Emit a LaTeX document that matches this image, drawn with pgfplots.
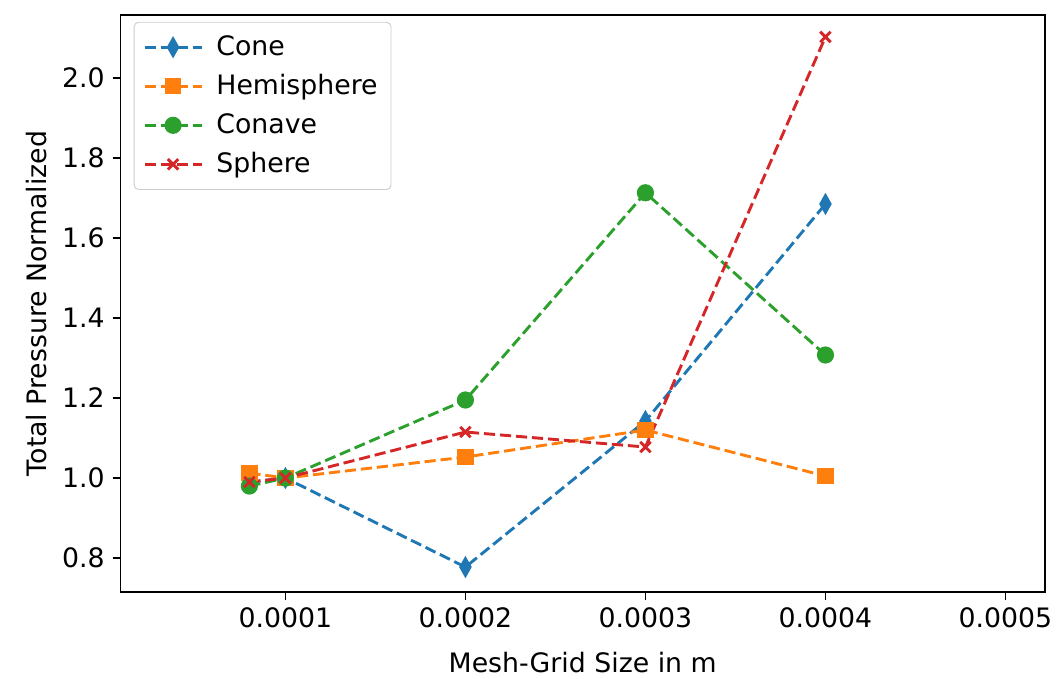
\documentclass[border=0pt]{standalone}
\usepackage{pgfplots}
\pgfplotsset{compat=1.18}
\usepackage{fontspec}
\setmainfont{DejaVu Sans}
\definecolor{tabblue}{HTML}{1F77B4}
\definecolor{taborange}{HTML}{FF7F0E}
\definecolor{tabgreen}{HTML}{2CA02C}
\definecolor{tabred}{HTML}{D62728}
\begin{document}
\begin{tikzpicture}
\begin{axis}[
  name=ax,
  scale only axis,
  width=415pt, height=259pt,
  xmin=0.0000083, xmax=0.000522,
  ymin=0.715, ymax=2.1575,
  xtick={0.0001,0.0002,0.0003,0.0004,0.0005},
  xticklabels={0.0001,0.0002,0.0003,0.0004,0.0005},
  scaled x ticks=false,
  ytick={0.8,1.0,1.2,1.4,1.6,1.8,2.0},
  yticklabel style={/pgf/number format/.cd,fixed,fixed zerofill,precision=1},
  /pgf/number format/assume math mode=true,
  tick align=outside,
  tick pos=left,
  major tick length=3.5pt,
  tick style={black, line width=0.6pt},
  axis line style={line width=0.6pt},
  ticklabel style={font=\fontsize{12}{14}\selectfont},
  label style={font=\fontsize{12}{14}\selectfont},
  xlabel={Mesh-Grid Size in m},
  xlabel style={yshift=-4pt},
  ylabel={Total Pressure Normalized},
  legend style={font=\fontsize{12}{14}\selectfont, draw=black!20, rounded corners=2pt, row sep=3pt, at={(0.0145,0.988)}, anchor=north west, inner xsep=4pt, inner ysep=4pt},
  legend cell align=left,
  legend image code/.code={\draw[mark repeat=2,mark phase=2] plot coordinates {(0cm,0cm) (0.45cm,0cm) (0.9cm,0cm)};},
  every axis plot/.append style={line width=1.3pt, dash pattern=on 5pt off 2.2pt},
]
\addplot[tabblue, mark=diamond*, mark size=3.7pt, mark options={solid, xscale=0.75}] coordinates {
(0.00008,0.99) (0.0001,1.0) (0.0002,0.7775) (0.0003,1.1425) (0.0004,1.685)};
\addlegendentry{\hspace{4pt}Cone}
\addplot[taborange, mark=square*, mark size=3.0pt, mark options={solid}] coordinates {
(0.00008,1.0125) (0.0001,1.0) (0.0002,1.0525) (0.0003,1.12) (0.0004,1.005)};
\addlegendentry{\hspace{4pt}Hemisphere}
\addplot[tabgreen, mark=*, mark size=3.2pt, mark options={solid}] coordinates {
(0.00008,0.98) (0.0001,1.0) (0.0002,1.195) (0.0003,1.713) (0.0004,1.3075)};
\addlegendentry{\hspace{4pt}Conave}
\addplot[tabred, mark=x, mark size=3.3pt, mark options={solid, line width=1.3pt}] coordinates {
(0.00008,0.99) (0.0001,1.0) (0.0002,1.115) (0.0003,1.0775) (0.0004,2.1025)};
\addlegendentry{\hspace{4pt}Sphere}
\end{axis}
\pgfresetboundingbox
\path ([shift={(-54pt,-39pt)}]ax.south west) rectangle ([shift={(6.7pt,6.7pt)}]ax.north east);
\end{tikzpicture}
\end{document}
